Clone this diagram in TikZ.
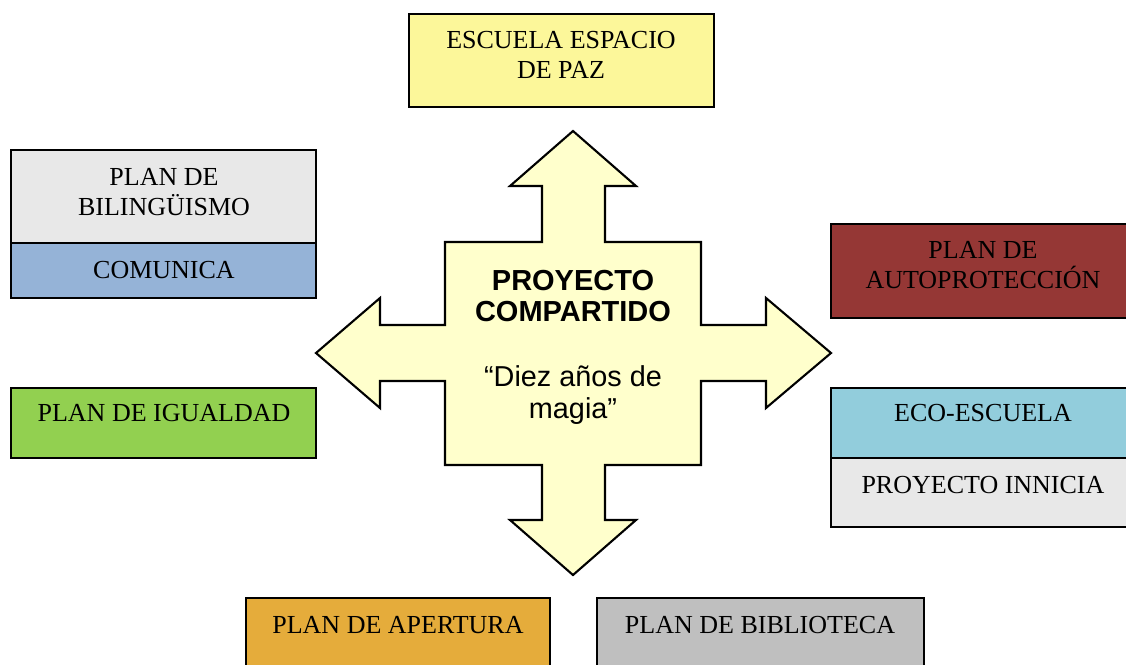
\documentclass[tikz,border=0pt]{standalone}
\usepackage{fontspec}
\setmainfont{Liberation Serif}
\newfontfamily\sansfont{Liberation Sans}
\usetikzlibrary{positioning}

\definecolor{amarillo}{HTML}{FCF79A}
\definecolor{crema}{HTML}{FFFFCC}
\definecolor{grisclaro}{HTML}{E8E8E8}
\definecolor{azul}{HTML}{95B3D7}
\definecolor{granate}{HTML}{953735}
\definecolor{verde}{HTML}{92D050}
\definecolor{celeste}{HTML}{92CDDC}
\definecolor{naranja}{HTML}{E5AC3B}
\definecolor{gris}{HTML}{BFBFBF}

\tikzset{
    plan/.style={draw=black, line width=1.2pt},
    rotulo/.style={align=center, inner sep=0pt, font=\fontsize{14.8}{17}\selectfont},
    lema/.style={align=center, inner sep=0pt, font=\sansfont\fontsize{16.4}{18}\selectfont}
}

\begin{document}
\begin{tikzpicture}[x=0.02cm, y=-0.02cm]

    \useasboundingbox (0, 0) rectangle (1126, 664);

    % --- Central cross (four-way arrow) ---
    \draw[line width=1.2pt, fill=crema, line join=miter]
        (573, 131) -- (636, 186) -- (605, 186) -- (605, 242) -- (701, 242) -- (701, 325)
        -- (766, 325) -- (766, 298) -- (831, 353) -- (766, 408) -- (766, 381) -- (701, 381)
        -- (701, 465) -- (605, 465) -- (605, 520) -- (636, 520) -- (573, 575) -- (510, 520)
        -- (542, 520) -- (542, 465) -- (445, 465) -- (445, 381) -- (380, 381) -- (380, 408)
        -- (316, 353) -- (380, 298) -- (380, 325) -- (445, 325) -- (445, 242) -- (542, 242)
        -- (542, 186) -- (510, 186) -- cycle;
    \node[lema, font=\sansfont\bfseries\fontsize{16.5}{17.6}\selectfont] (titulo) at (573, 296) {PROYECTO\\COMPARTIDO};
    \node[lema] (magia) at (573, 395) {“Diez años de\\magia”};

    % --- Top ---
    \draw[plan, fill=amarillo] (409, 14) rectangle (714, 107);
    \node[rotulo] (paz) at (561, 55) {ESCUELA ESPACIO\\DE PAZ};

    % --- Left column ---
    \draw[plan, fill=grisclaro] (11, 150) rectangle (316, 243);
    \draw[plan, fill=azul] (11, 243) rectangle (316, 298);
    \node[rotulo] (bilinguismo) at (164, 192) {PLAN DE\\BILINGÜISMO};
    \node[rotulo] (comunica) at (164, 270) {COMUNICA};

    \draw[plan, fill=verde] (11, 388) rectangle (316, 458);
    \node[rotulo] (igualdad) at (164, 413) {PLAN DE IGUALDAD};

    % --- Right column ---
    \draw[plan, fill=granate] (831, 224) rectangle (1140, 318);
    \node[rotulo] (autoproteccion) at (983, 265) {PLAN DE\\AUTOPROTECCIÓN};

    \draw[plan, fill=celeste] (831, 388) rectangle (1140, 458);
    \draw[plan, fill=grisclaro] (831, 458) rectangle (1140, 527);
    \node[rotulo] (ecoescuela) at (983, 413) {ECO-ESCUELA};
    \node[rotulo] (innicia) at (983, 485) {PROYECTO INNICIA};

    % --- Bottom row ---
    \draw[plan, fill=naranja] (246, 598) rectangle (550, 680);
    \node[rotulo] (apertura) at (398, 625) {PLAN DE APERTURA};

    \draw[plan, fill=gris] (597, 598) rectangle (924, 680);
    \node[rotulo] (biblioteca) at (760, 625) {PLAN DE BIBLIOTECA};

\end{tikzpicture}
\end{document}
